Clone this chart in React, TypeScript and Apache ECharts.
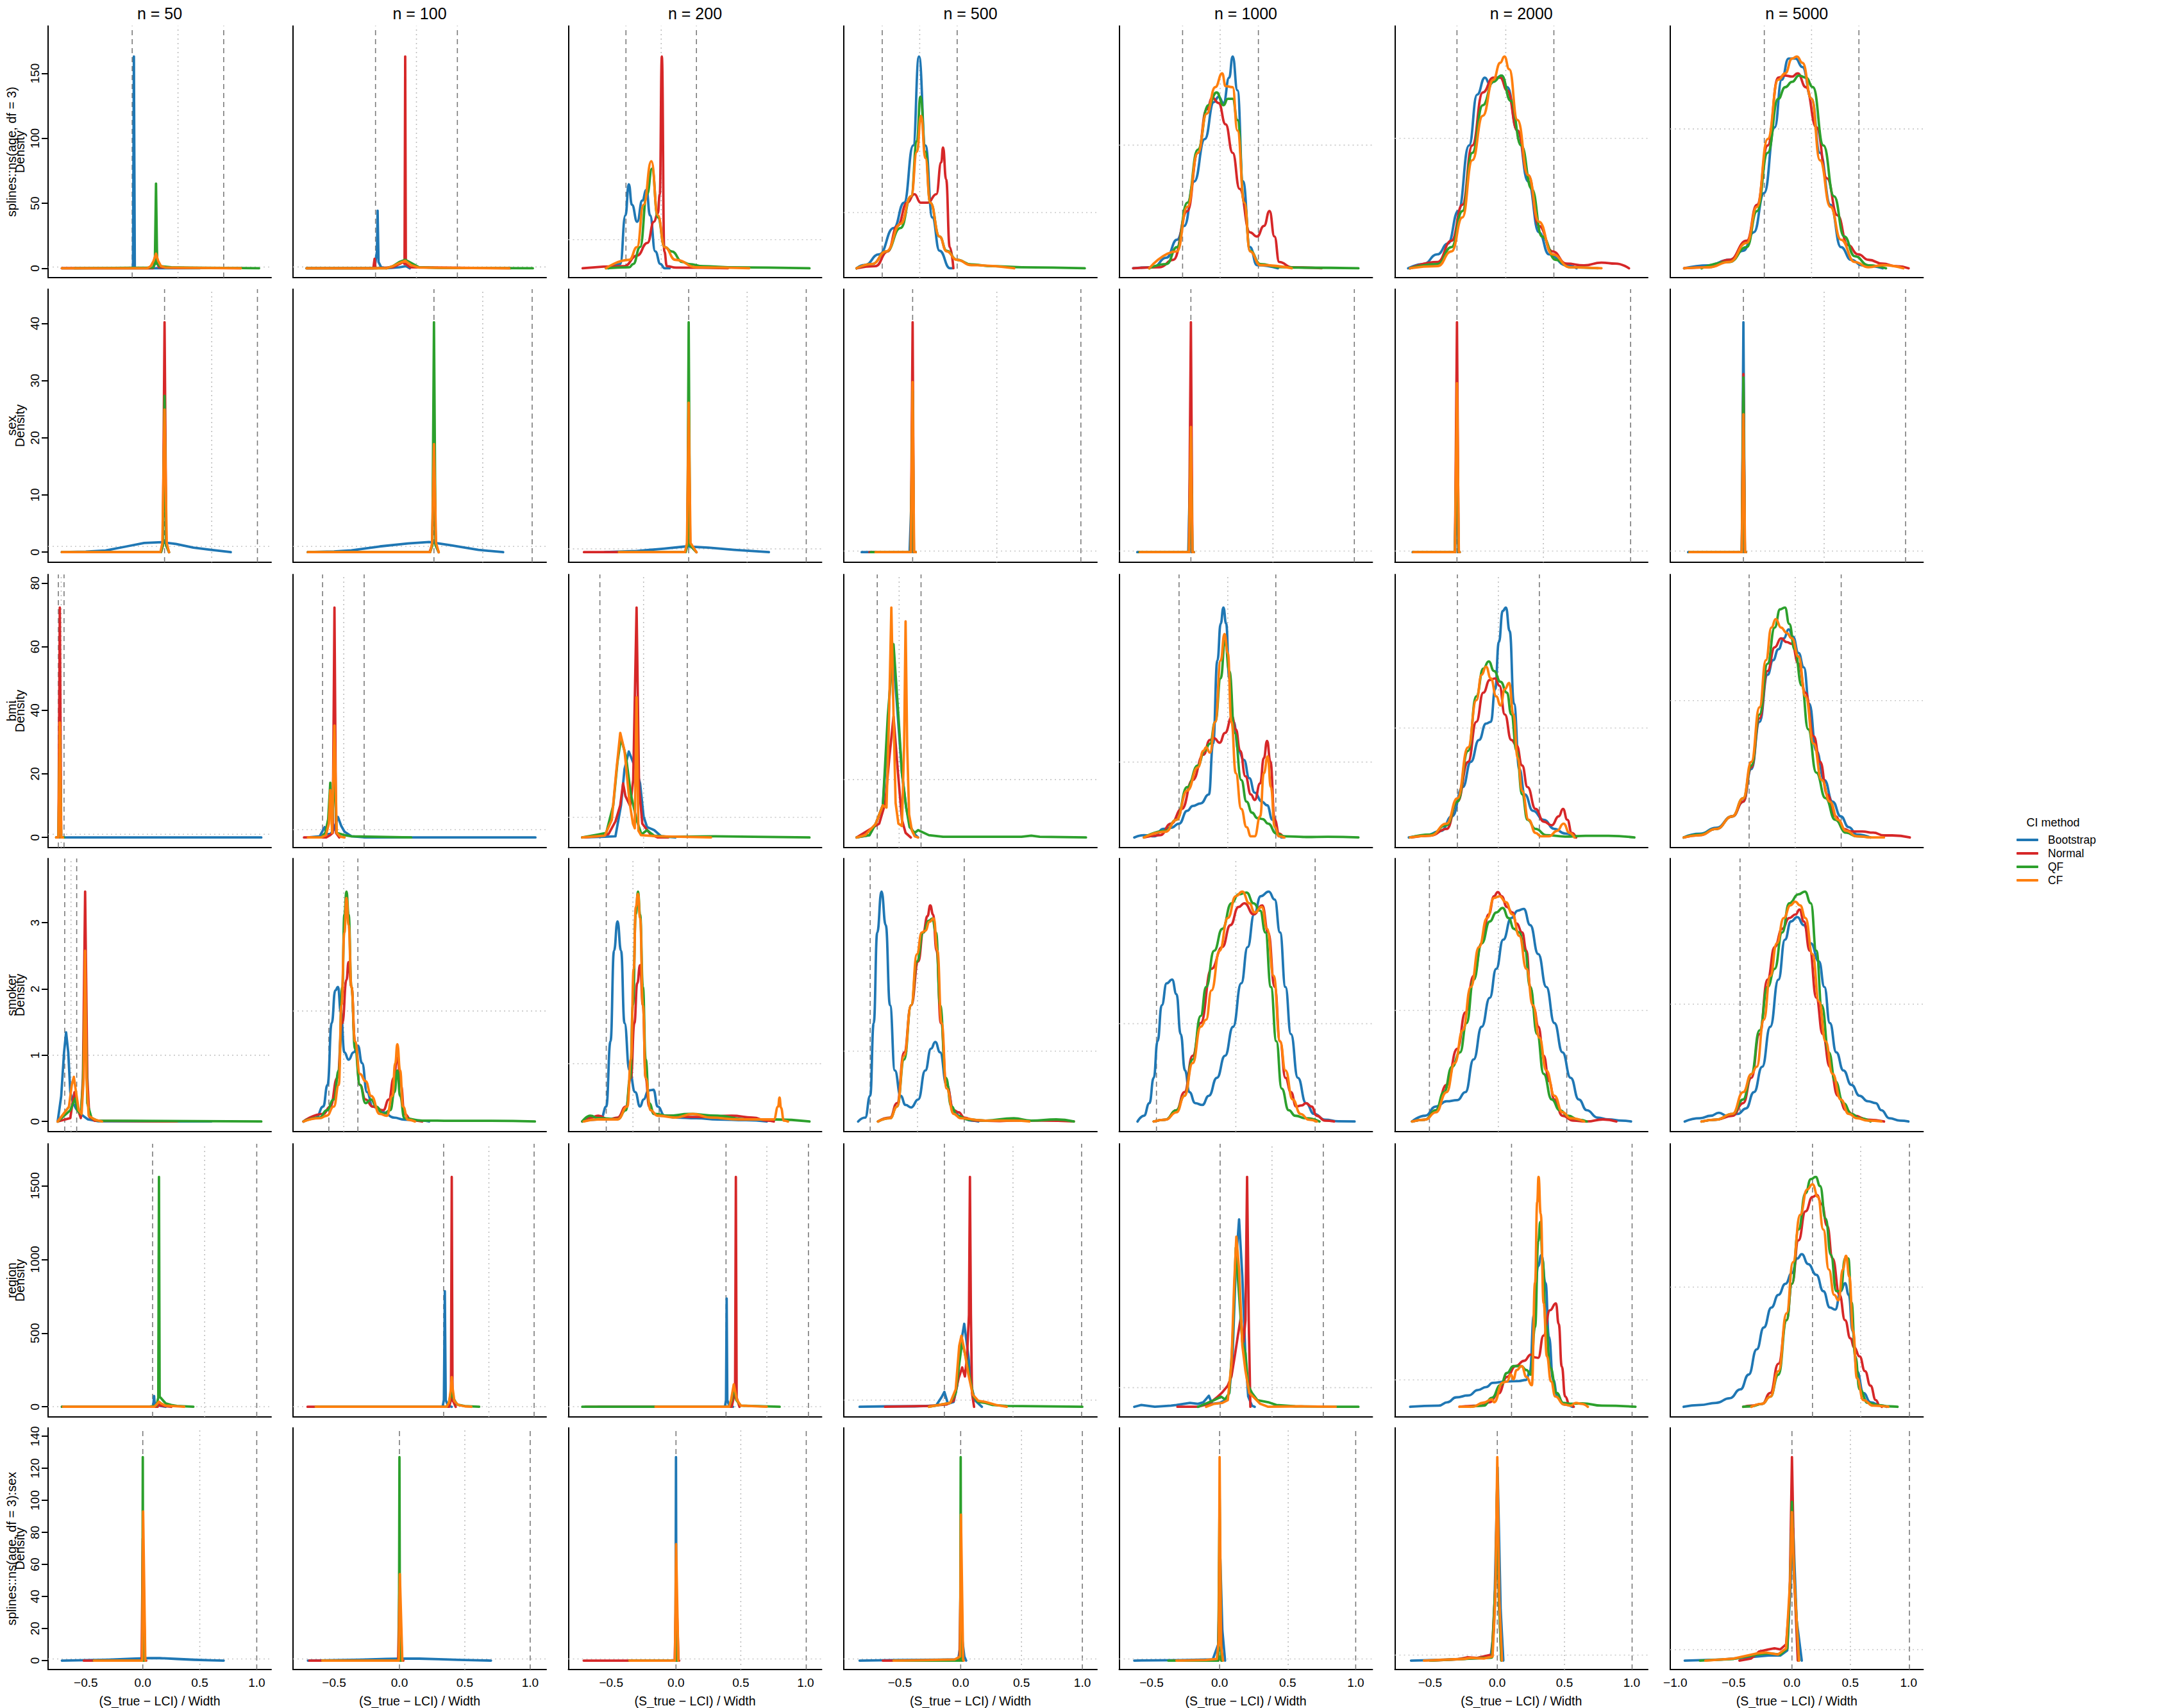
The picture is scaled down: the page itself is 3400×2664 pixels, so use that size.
import React, { useEffect, useRef } from "react";
import * as echarts from "echarts";

// ---------------- text ----------------
const COLUMN_TITLES = ["n = 50", "n = 100", "n = 200", "n = 500", "n = 1000", "n = 2000", "n = 5000"];
const ROW_TERMS = ["splines::ns(age, df = 3)", "sex", "bmi", "smoker", "region", "splines::ns(age, df = 3):sex"];
const METHODS = ["Bootstrap", "Normal", "QF", "CF"];
const X_AXIS_TITLE = "(S_true \u2212 LCI) / Width";
const Y_AXIS_TITLE = "Density";
const LEGEND_TITLE = "CI method";

// ---------------- axes ----------------
const X_LIMITS = [[-0.831, 1.127], [-0.814, 1.123], [-0.83, 1.124], [-0.961, 1.121], [-0.738, 1.123], [-0.762, 1.12], [-1.043, 1.125]];
const X_TICKS = [[-0.5, 0, 0.5, 1], [-0.5, 0, 0.5, 1], [-0.5, 0, 0.5, 1], [-0.5, 0, 0.5, 1], [-0.5, 0, 0.5, 1], [-0.5, 0, 0.5, 1], [-1, -0.5, 0, 0.5, 1]];
const Y_TICKS = [[0, 50, 100, 150], [0, 10, 20, 30, 40], [0, 20, 40, 60, 80], [0, 1, 2, 3], [0, 500, 1000, 1500], [0, 20, 40, 60, 80, 100, 120, 140]];

// tallest density in each panel (rows = terms, columns = n)
const PANEL_PEAK = [
  [163, 160, 7.4, 3.8, 1.72, 1.63, 1.52],
  [40.2, 40, 70, 200, 200, 200, 200],
  [72.3, 29.4, 11.4, 3.97, 3.05, 2.1, 1.68],
  [3.47, 2.08, 3.98, 3.27, 2.35, 2.07, 1.96],
  [1560, 1500, 1500, 34, 12, 8.55, 1.92],
  [127, 127, 127, 127, 127, 37, 18.6],
];

// dashed reference lines (pair per panel) and dotted centre line
const CI_LIMITS = [
  [[-0.093, 0.71], [-0.183, 0.443], [-0.386, 0.158], [-0.645, -0.029], [-0.272, 0.285], [-0.3, 0.421], [-0.237, 0.574]],
  [[0.191, 1.006], [0.264, 1.015], [0.098, 1.005], [-0.395, 0.988], [-0.211, 0.99], [-0.3, 0.992], [-0.416, 0.974]],
  [[-0.741, -0.691], [-0.588, -0.27], [-0.587, 0.087], [-0.686, -0.326], [-0.298, 0.413], [-0.297, 0.313], [-0.367, 0.422]],
  [[-0.685, -0.58], [-0.54, -0.318], [-0.538, -0.13], [-0.744, 0.029], [-0.464, 0.702], [-0.505, 0.517], [-0.445, 0.52]],
  [[0.086, 1.0], [0.338, 1.03], [0.386, 1.022], [-0.134, 0.994], [0.004, 0.762], [0.106, 1.003], [0.176, 1.007]],
  [[0, 1], [0, 1], [0, 1.005], [0, 1], [0, 1], [0, 1.003], [0, 1.007]],
];
const CI_CENTRES = [
  [0.309, 0.13, -0.114, -0.337, 0.004, 0.063, 0.168],
  [0.605, 0.637, 0.549, 0.297, 0.392, 0.343, 0.276],
  [-0.716, -0.426, -0.25, -0.506, 0.06, 0.008, 0.028],
  [-0.63, -0.426, -0.332, -0.355, 0.119, 0.008, 0.037],
  [0.543, 0.684, 0.701, 0.43, 0.385, 0.555, 0.589],
  [0.5, 0.5, 0.5, 0.5, 0.504, 0.5, 0.501],
];
const UNIFORM_DENSITY = 1;

// ---------------- curves: [x, height in % of the panel's tallest peak] ----------------
// row 1: splines::ns(age, df = 3)
const age_50 = {
  Bootstrap: [[-0.71, 0], [-0.3, 0], [-0.086, 0], [-0.078, 100], [-0.07, 0], [0.2, 0], [0.5, 0]],
  Normal: [[-0.71, 0], [0.09, 0], [0.106, 3], [0.116, 14], [0.126, 3], [0.14, 0.5], [0.3, 0.2], [0.86, 0]],
  QF: [[-0.6, 0], [0.09, 0.3], [0.106, 2], [0.116, 40], [0.126, 2], [0.15, 1], [0.25, 0.5], [0.4, 0.3], [1.02, 0]],
  CF: [[-0.71, 0], [0.04, 0], [0.07, 1], [0.095, 3.5], [0.116, 6.9], [0.135, 3.5], [0.16, 1], [0.2, 0.3], [0.86, 0]],
};
const age_100 = {
  Bootstrap: [[-0.71, 0], [-0.3, 0], [-0.19, 0], [-0.178, 5.4], [-0.172, 8], [-0.167, 27.2], [-0.16, 3], [-0.14, 0.5], [-0.1, 0], [0, 0.5], [0.05, 1], [0.08, 0]],
  Normal: [[-0.71, 0], [-0.2, 0], [-0.19, 4.5], [-0.183, 0], [-0.05, 0.5], [0, 2], [0.03, 3], [0.039, 2], [0.044, 100], [0.049, 2], [0.08, 0.5], [0.85, 0]],
  QF: [[-0.71, 0], [-0.1, 0], [-0.05, 1], [0, 3], [0.044, 4], [0.09, 2.5], [0.15, 0.5], [0.3, 0.2], [1.02, 0]],
  CF: [[-0.71, 0], [-0.1, 0], [-0.05, 1], [0, 2.5], [0.044, 3.5], [0.09, 1.5], [0.15, 0.3], [0.84, 0]],
};
const age_200 = {
  Bootstrap: [[-0.52, 0], [-0.43, 2], [-0.39, 25], [-0.364, 39.7], [-0.34, 30], [-0.299, 22], [-0.26, 32], [-0.228, 37], [-0.2, 25], [-0.16, 8], [-0.12, 2], [-0.087, 0], [-0.049, 0]],
  Normal: [[-0.72, 0], [-0.4, 1], [-0.3, 6], [-0.22, 12], [-0.17, 22], [-0.14, 26], [-0.125, 35], [-0.109, 100], [-0.09, 8], [-0.07, 1], [0, 0.3], [0.4, 0]],
  QF: [[-0.54, 0], [-0.36, 0.5], [-0.33, 2], [-0.277, 10], [-0.223, 35], [-0.185, 47], [-0.14, 24], [-0.087, 10], [-0.033, 8], [0.05, 3], [0.1, 2], [0.21, 1], [0.4, 0.5], [1.03, 0]],
  CF: [[-0.54, 0], [-0.36, 4], [-0.3, 10], [-0.25, 30], [-0.19, 50.6], [-0.14, 25], [-0.087, 10], [-0.005, 4], [0.16, 0.5], [0.565, 0]],
};
const age_500 = {
  Bootstrap: [[-0.855, 0], [-0.79, 1.5], [-0.67, 6.6], [-0.55, 19], [-0.465, 31], [-0.39, 58], [-0.343, 100], [-0.29, 58], [-0.233, 24], [-0.174, 8.3], [-0.087, 0], [-0.07, 0]],
  Normal: [[-0.855, 0], [-0.7, 1], [-0.6, 8], [-0.52, 20], [-0.44, 31], [-0.38, 35], [-0.33, 31], [-0.27, 31], [-0.2, 35], [-0.16, 50], [-0.145, 57], [-0.12, 42], [-0.09, 10], [-0.06, 0]],
  QF: [[-0.855, 0], [-0.73, 2], [-0.61, 8], [-0.494, 19], [-0.407, 34], [-0.36, 60], [-0.331, 81], [-0.29, 55], [-0.25, 31], [-0.174, 15], [-0.116, 8.3], [-0.03, 4], [0.087, 1.8], [0.26, 1], [0.5, 0.5], [1.02, 0]],
  CF: [[-0.855, 0], [-0.73, 2], [-0.61, 8], [-0.494, 21], [-0.407, 34], [-0.36, 55], [-0.326, 72], [-0.29, 52], [-0.25, 31], [-0.174, 15], [-0.116, 8], [-0.03, 4], [0.087, 1.5], [0.44, 0]],
};
const age_1000 = {
  Bootstrap: [[-0.635, 0], [-0.49, 0.5], [-0.39, 5], [-0.313, 13.5], [-0.26, 20], [-0.186, 41], [-0.109, 61], [-0.042, 78.5], [-0.007, 81], [0.029, 78], [0.07, 90], [0.096, 100], [0.131, 84], [0.172, 41], [0.223, 10], [0.275, 1.5], [0.428, 0]],
  Normal: [[-0.635, 0], [-0.44, 0.5], [-0.34, 4], [-0.237, 27], [-0.16, 54.5], [-0.095, 75], [-0.053, 80.5], [-0.007, 78], [0.044, 68], [0.096, 54.5], [0.147, 37.5], [0.223, 17], [0.275, 15], [0.326, 20], [0.367, 27], [0.403, 15], [0.438, 3], [0.53, 0.5], [0.75, 0]],
  QF: [[-0.517, 0], [-0.39, 2], [-0.313, 10], [-0.237, 31], [-0.16, 56], [-0.083, 77], [-0.022, 83], [0.029, 77], [0.06, 80], [0.096, 80], [0.131, 70], [0.182, 31], [0.223, 8.3], [0.3, 2], [0.43, 0.6], [0.58, 0.3], [1.02, 0]],
  CF: [[-0.517, 0], [-0.313, 8], [-0.237, 29], [-0.16, 54.5], [-0.095, 73], [-0.032, 85.5], [0.019, 92], [0.044, 86], [0.096, 85.5], [0.131, 65], [0.182, 31], [0.223, 8], [0.3, 1.5], [0.53, 0]],
};
const age_2000 = {
  Bootstrap: [[-0.663, 0], [-0.55, 2], [-0.445, 6.6], [-0.367, 11.7], [-0.29, 27], [-0.21, 58], [-0.15, 82], [-0.092, 90], [-0.056, 87], [-0.004, 90], [0.032, 91], [0.074, 85.5], [0.15, 65], [0.23, 41], [0.31, 17], [0.385, 6.6], [0.515, 1.4], [0.59, 0]],
  Normal: [[-0.65, 0], [-0.445, 3], [-0.34, 13], [-0.26, 30], [-0.186, 58], [-0.108, 83], [-0.03, 90], [0.022, 90], [0.074, 84], [0.15, 65], [0.23, 44], [0.31, 20], [0.41, 8], [0.515, 2.2], [0.645, 1.4], [0.775, 2.7], [0.88, 2.2], [0.98, 0]],
  QF: [[-0.65, 0], [-0.445, 2], [-0.34, 10], [-0.26, 27], [-0.186, 54.5], [-0.108, 77], [-0.03, 88], [0.032, 91], [0.1, 79], [0.178, 58], [0.256, 37.5], [0.333, 15], [0.436, 4], [0.54, 0.5], [0.75, 0]],
  CF: [[-0.65, 0], [-0.445, 1], [-0.34, 8], [-0.26, 24], [-0.186, 51], [-0.108, 72], [-0.03, 89], [0.022, 97], [0.053, 100], [0.089, 94], [0.15, 70], [0.23, 44], [0.31, 22], [0.41, 6.6], [0.54, 0.5], [0.775, 0]],
};
const age_5000 = {
  Bootstrap: [[-0.924, 0], [-0.715, 1.4], [-0.536, 4], [-0.417, 8.3], [-0.327, 17], [-0.238, 35.6], [-0.148, 66.5], [-0.088, 89], [-0.029, 99], [0.031, 99], [0.09, 95], [0.168, 80], [0.24, 54.5], [0.33, 30], [0.42, 10], [0.508, 4], [0.6, 1.4], [0.778, 0]],
  Normal: [[-0.924, 0], [-0.715, 0.5], [-0.536, 4], [-0.387, 13], [-0.3, 30], [-0.208, 58], [-0.118, 90], [-0.058, 91], [0.001, 90.5], [0.049, 92], [0.12, 85.5], [0.21, 66.5], [0.3, 42.5], [0.39, 25], [0.478, 11], [0.567, 6.6], [0.657, 4], [0.776, 2.2], [0.895, 1], [1.0, 0]],
  QF: [[-0.775, 0], [-0.536, 3], [-0.387, 10], [-0.3, 27], [-0.208, 54.5], [-0.118, 80], [-0.058, 85.5], [0.001, 88], [0.06, 91], [0.12, 90], [0.18, 85.5], [0.27, 58], [0.36, 34], [0.448, 15], [0.538, 5.7], [0.657, 1.4], [0.806, 0]],
  CF: [[-0.924, 0], [-0.715, 0.5], [-0.536, 3], [-0.387, 12], [-0.3, 29], [-0.208, 61], [-0.118, 89], [-0.058, 92], [0.001, 99], [0.043, 100], [0.09, 97], [0.168, 80], [0.24, 51], [0.33, 29], [0.42, 13.5], [0.538, 3], [0.657, 0.5], [0.776, 1.5], [0.955, 0]],
};

// row 2: sex
const sex_50 = {
  Bootstrap: [[-0.71, 0], [-0.5, 0.25], [-0.327, 0.75], [-0.142, 2.5], [0.012, 4], [0.167, 4.35], [0.29, 3.6], [0.444, 2], [0.6, 1], [0.772, 0]],
  Normal: [[-0.71, 0], [0.16, 0], [0.176, 3], [0.191, 100], [0.206, 3], [0.23, 0]],
  QF: [[-0.71, 0], [0.16, 0], [0.177, 3], [0.191, 68], [0.205, 3], [0.23, 0]],
  CF: [[-0.71, 0], [0.155, 0], [0.172, 4], [0.191, 62], [0.21, 4], [0.23, 0]],
};
const sex_100 = {
  Bootstrap: [[-0.7, 0], [-0.5, 0.3], [-0.367, 0.8], [-0.15, 2.5], [0.065, 3.8], [0.227, 4.4], [0.39, 3], [0.604, 1], [0.793, 0]],
  Normal: [[-0.7, 0], [0.23, 0], [0.25, 3], [0.264, 40], [0.278, 3], [0.3, 0]],
  QF: [[-0.7, 0], [0.235, 0], [0.252, 3], [0.264, 100], [0.276, 3], [0.3, 0]],
  CF: [[-0.7, 0], [0.235, 0], [0.25, 4], [0.264, 47], [0.28, 4], [0.3, 0]],
};
const sex_200 = {
  Bootstrap: [[-0.55, 0], [-0.3, 0.5], [-0.1, 1.5], [0.076, 2.5], [0.25, 2], [0.45, 1], [0.717, 0]],
  Normal: [[-0.71, 0], [0.07, 0], [0.086, 3], [0.098, 55], [0.11, 3], [0.158, 0]],
  QF: [[-0.44, 0], [0.075, 0], [0.088, 3], [0.098, 100], [0.108, 3], [0.158, 0]],
  CF: [[-0.44, 0], [0.07, 0], [0.085, 4], [0.098, 65], [0.112, 4], [0.158, 0]],
};
const sex_500 = {
  Bootstrap: [[-0.814, 0], [-0.42, 0], [-0.4, 30], [-0.39, 0], [-0.38, 0]],
  Normal: [[-0.75, 0], [-0.41, 0], [-0.395, 100], [-0.385, 0], [-0.37, 0]],
  QF: [[-0.74, 0], [-0.41, 0], [-0.395, 70], [-0.385, 0], [-0.37, 0]],
  CF: [[-0.7, 0], [-0.41, 0], [-0.395, 74], [-0.383, 0], [-0.37, 0]],
};
const sex_1000 = {
  Bootstrap: [[-0.605, 0], [-0.23, 0], [-0.215, 40], [-0.205, 0], [-0.19, 0]],
  Normal: [[-0.59, 0], [-0.225, 0], [-0.211, 100], [-0.2, 0], [-0.19, 0]],
  QF: [[-0.59, 0], [-0.225, 0], [-0.211, 50], [-0.2, 0], [-0.19, 0]],
  CF: [[-0.585, 0], [-0.225, 0], [-0.211, 54.5], [-0.2, 0], [-0.19, 0]],
};
const sex_2000 = {
  Bootstrap: [[-0.63, 0], [-0.315, 0], [-0.302, 40], [-0.29, 0], [-0.28, 0]],
  Normal: [[-0.626, 0], [-0.315, 0], [-0.3, 100], [-0.288, 0], [-0.28, 0]],
  QF: [[-0.626, 0], [-0.315, 0], [-0.3, 60], [-0.288, 0], [-0.28, 0]],
  CF: [[-0.626, 0], [-0.315, 0], [-0.3, 73.5], [-0.286, 0], [-0.28, 0]],
};
const sex_5000 = {
  Bootstrap: [[-0.89, 0], [-0.43, 0], [-0.416, 100], [-0.404, 0], [-0.395, 0]],
  Normal: [[-0.88, 0], [-0.43, 0], [-0.416, 77.5], [-0.404, 0], [-0.395, 0]],
  QF: [[-0.88, 0], [-0.43, 0], [-0.416, 76], [-0.404, 0], [-0.395, 0]],
  CF: [[-0.878, 0], [-0.43, 0], [-0.416, 60], [-0.402, 0], [-0.395, 0]],
};

// row 3: bmi
const bmi_50 = {
  Bootstrap: [[-0.75, 0], [-0.735, 0], [-0.728, 1], [-0.72, 0], [1.04, 0]],
  Normal: [[-0.76, 0], [-0.74, 0], [-0.728, 100], [-0.716, 0], [-0.7, 0]],
  QF: [[-0.76, 0], [-0.74, 0], [-0.728, 45], [-0.716, 0], [-0.69, 0]],
  CF: [[-0.76, 0], [-0.74, 0], [-0.728, 50], [-0.716, 0], [-0.7, 0]],
};
const bmi_100 = {
  Bootstrap: [[-0.7, 0], [-0.61, 0.5], [-0.572, 4.5], [-0.555, 1.5], [-0.53, 1.5], [-0.505, 3], [-0.47, 8.9], [-0.445, 5], [-0.42, 2.5], [-0.367, 0.5], [-0.26, 0], [1.04, 0]],
  Normal: [[-0.73, 0], [-0.56, 0], [-0.53, 1], [-0.51, 2], [-0.497, 100], [-0.485, 2], [-0.46, 0]],
  QF: [[-0.66, 0], [-0.6, 0], [-0.567, 2], [-0.545, 8], [-0.529, 23.8], [-0.515, 5], [-0.497, 30], [-0.48, 2], [-0.42, 1], [-0.367, 0.5], [0.09, 0]],
  CF: [[-0.7, 0], [-0.6, 0], [-0.562, 1], [-0.54, 6], [-0.529, 20.6], [-0.515, 2], [-0.497, 48.7], [-0.48, 2], [-0.45, 0.3], [-0.42, 0]],
};
const bmi_200 = {
  Bootstrap: [[-0.723, 0], [-0.549, 0.3], [-0.467, 0.5], [-0.424, 14], [-0.397, 29.8], [-0.364, 37.4], [-0.332, 32.9], [-0.299, 28.2], [-0.277, 23.5], [-0.25, 9.2], [-0.223, 4.5], [-0.168, 3.2], [-0.114, 0.5], [-0.005, 0]],
  Normal: [[-0.723, 0], [-0.6, 0.5], [-0.52, 1.5], [-0.467, 7], [-0.43, 14], [-0.408, 23.5], [-0.39, 18], [-0.353, 13.7], [-0.33, 25], [-0.304, 100], [-0.285, 22], [-0.26, 6], [-0.196, 1.3], [-0.14, 0], [-0.06, 0]],
  QF: [[-0.723, 0], [-0.6, 1.3], [-0.538, 2], [-0.484, 14], [-0.451, 33], [-0.424, 43.2], [-0.386, 35.3], [-0.348, 18.7], [-0.304, 7.7], [-0.266, 1.3], [-0.223, 3.2], [-0.17, 0.8], [-0.06, 0.3], [0.3, 0.5], [0.6, 0.3], [1.03, 0]],
  CF: [[-0.723, 0], [-0.549, 0.8], [-0.495, 7.7], [-0.462, 28], [-0.43, 45.5], [-0.397, 37.7], [-0.359, 15.6], [-0.332, 6], [-0.318, 4], [-0.304, 61], [-0.29, 3], [-0.27, 1], [-0.14, 0.5], [0.27, 0]],
};
const bmi_500 = {
  Bootstrap: [[-0.855, 0], [-0.75, 1], [-0.698, 6], [-0.64, 14], [-0.599, 45.5], [-0.564, 85], [-0.529, 61.4], [-0.483, 28], [-0.448, 13], [-0.42, 6], [-0.39, 2], [-0.35, 0]],
  Normal: [[-0.855, 0], [-0.67, 6], [-0.62, 15], [-0.587, 34.5], [-0.552, 52.6], [-0.518, 29.8], [-0.483, 7.7], [-0.453, 2], [-0.41, 0]],
  QF: [[-0.855, 0], [-0.75, 1], [-0.698, 6], [-0.64, 14], [-0.599, 53], [-0.552, 84], [-0.512, 53], [-0.483, 28], [-0.448, 13], [-0.42, 4.5], [-0.378, 2], [-0.35, 3.2], [-0.262, 1], [-0.145, 0.3], [0.5, 0.3], [0.58, 0.8], [0.65, 0.3], [1.03, 0]],
  CF: [[-0.855, 0], [-0.785, 1], [-0.698, 6], [-0.64, 14], [-0.61, 13], [-0.59, 50], [-0.57, 100], [-0.552, 53], [-0.535, 15], [-0.512, 6], [-0.483, 5], [-0.465, 40], [-0.453, 94], [-0.44, 40], [-0.424, 10], [-0.401, 3], [-0.378, 0.5], [-0.35, 0]],
};
const bmi_1000 = {
  Bootstrap: [[-0.627, 0], [-0.556, 1], [-0.476, 0.5], [-0.417, 3.7], [-0.357, 4.2], [-0.298, 6], [-0.238, 11.6], [-0.198, 13.7], [-0.139, 14.8], [-0.079, 18.7], [-0.048, 40.8], [-0.016, 77], [0.008, 93], [0.028, 100], [0.048, 93], [0.071, 69.2], [0.103, 50.3], [0.139, 37.7], [0.179, 33.7], [0.218, 25.8], [0.258, 19.5], [0.31, 15.6], [0.349, 14], [0.389, 7.7], [0.429, 1.7], [0.456, 0], [0.476, 0]],
  Normal: [[-0.556, 0], [-0.437, 1], [-0.357, 6], [-0.278, 12.4], [-0.198, 25], [-0.119, 36], [-0.071, 42.4], [-0.04, 43.2], [0, 41.2], [0.04, 45.5], [0.091, 52.6], [0.119, 47], [0.151, 37.7], [0.19, 26.6], [0.23, 18.7], [0.258, 16.3], [0.298, 23.5], [0.325, 34.5], [0.349, 42], [0.373, 33], [0.405, 7.7], [0.437, 1.7], [0.468, 0]],
  QF: [[-0.556, 0], [-0.397, 2.9], [-0.317, 7.7], [-0.238, 21.9], [-0.159, 31.3], [-0.111, 37.7], [-0.071, 40.8], [-0.032, 50.3], [0.008, 69.2], [0.04, 85.8], [0.071, 72.4], [0.111, 45.5], [0.159, 25], [0.198, 15.6], [0.238, 10.8], [0.278, 8.4], [0.317, 8], [0.357, 6], [0.417, 1.7], [0.476, 0.5], [0.635, 0.2], [0.794, 0.3], [1.02, 0]],
  CF: [[-0.556, 0], [-0.397, 2.5], [-0.317, 7.7], [-0.238, 20.4], [-0.159, 30.5], [-0.119, 37.7], [-0.099, 39.2], [-0.071, 36.9], [-0.032, 50.3], [0.008, 77], [0.036, 88.5], [0.06, 80.3], [0.087, 50.3], [0.119, 28], [0.159, 12.4], [0.198, 4.5], [0.23, 0.5], [0.258, 0.5], [0.298, 9.2], [0.325, 28], [0.353, 35.2], [0.377, 21.9], [0.405, 4.5], [0.437, 0.5], [0.476, 0]],
};
const bmi_2000 = {
  Bootstrap: [[-0.658, 0], [-0.537, 0.8], [-0.417, 2.9], [-0.337, 9.2], [-0.257, 21.9], [-0.197, 32.9], [-0.136, 42.4], [-0.084, 49.5], [-0.048, 50.3], [-0.016, 64.5], [0.012, 85], [0.04, 98.5], [0.064, 100], [0.092, 89.8], [0.124, 58.2], [0.164, 29.8], [0.205, 18.7], [0.265, 11.6], [0.345, 7.7], [0.425, 3.7], [0.505, 1.7], [0.586, 0]],
  Normal: [[-0.638, 0], [-0.497, 0.8], [-0.377, 3.7], [-0.297, 15.6], [-0.217, 32.9], [-0.156, 50.3], [-0.104, 63], [-0.056, 68.5], [-0.016, 69.2], [0.016, 66], [0.056, 53.5], [0.104, 42.4], [0.144, 40], [0.185, 31.3], [0.225, 21.9], [0.285, 12.4], [0.345, 6.9], [0.405, 5.3], [0.457, 9.2], [0.489, 12.4], [0.521, 7.7], [0.554, 2], [0.586, 0]],
  QF: [[-0.65, 0], [-0.497, 1.3], [-0.377, 5.3], [-0.297, 15.6], [-0.217, 37.7], [-0.156, 61.4], [-0.104, 73.4], [-0.064, 76.6], [-0.024, 72.4], [0.024, 67.7], [0.072, 63], [0.104, 53.5], [0.144, 37.7], [0.185, 18.7], [0.225, 7.7], [0.285, 3.7], [0.365, 1], [0.505, 0.4], [0.658, 0.7], [0.826, 0.7], [1.02, 0]],
  CF: [[-0.65, 0], [-0.497, 0.8], [-0.377, 6], [-0.297, 17], [-0.217, 39.2], [-0.156, 59.7], [-0.116, 70.8], [-0.084, 74.3], [-0.048, 69.2], [-0.008, 61.4], [0.024, 57.4], [0.056, 64.5], [0.088, 67.2], [0.12, 53.5], [0.152, 34.5], [0.185, 20.3], [0.233, 7.7], [0.285, 2], [0.325, 0.5], [0.385, 0.5], [0.445, 2.9], [0.493, 6], [0.537, 2], [0.574, 0]],
};
const bmi_5000 = {
  Bootstrap: [[-0.928, 0], [-0.789, 1.6], [-0.65, 4.2], [-0.51, 9.2], [-0.418, 15.6], [-0.348, 29.8], [-0.278, 50.3], [-0.209, 70.8], [-0.162, 77.1], [-0.116, 81.9], [-0.07, 86.6], [-0.028, 90.5], [0.009, 87.3], [0.056, 80.3], [0.102, 74], [0.148, 58.2], [0.209, 37.7], [0.278, 25], [0.348, 15.6], [0.418, 9.2], [0.487, 4.5], [0.557, 1.3], [0.673, 0]],
  Normal: [[-0.928, 0], [-0.789, 1], [-0.65, 3.7], [-0.51, 9.2], [-0.418, 15.6], [-0.348, 30.5], [-0.278, 51.8], [-0.209, 72.4], [-0.148, 82.7], [-0.093, 86.6], [-0.046, 85], [0, 84.2], [0.056, 75.6], [0.116, 63], [0.186, 44], [0.241, 32.9], [0.302, 18.7], [0.371, 9.2], [0.441, 3.7], [0.51, 2.6], [0.603, 2.6], [0.696, 2.1], [0.789, 0.9], [0.858, 0.9], [1.01, 0]],
  QF: [[-0.928, 0], [-0.789, 1.3], [-0.65, 3.7], [-0.51, 9.2], [-0.418, 17], [-0.348, 31.3], [-0.278, 53.5], [-0.209, 75.6], [-0.148, 91.3], [-0.102, 99.2], [-0.06, 100], [-0.023, 92.9], [0.023, 81.9], [0.084, 66.1], [0.139, 47.1], [0.209, 28.2], [0.288, 17.1], [0.371, 7.7], [0.464, 2.1], [0.557, 0.5], [0.673, 0]],
  CF: [[-0.928, 0], [-0.789, 1], [-0.65, 3.7], [-0.51, 9.2], [-0.418, 17], [-0.348, 32.9], [-0.278, 56.6], [-0.223, 77.1], [-0.176, 91.3], [-0.139, 95], [-0.093, 91.3], [-0.046, 89], [0, 86.6], [0.056, 78.7], [0.116, 61.4], [0.186, 40.8], [0.255, 25], [0.325, 15.6], [0.394, 7.7], [0.464, 2.9], [0.557, 0.5], [0.696, 0], [0.789, 0]],
};

// row 4: smoker
const smoker_50 = {
  Bootstrap: [[-0.747, 0], [-0.716, 11], [-0.691, 30], [-0.673, 38.8], [-0.654, 30], [-0.636, 12.8], [-0.611, 8], [-0.586, 5.6], [-0.556, 4], [-0.525, 2.5], [-0.481, 0.9], [-0.389, 0.1], [0.6, 0]],
  Normal: [[-0.747, 0], [-0.636, 1.5], [-0.617, 8], [-0.599, 12.8], [-0.575, 6], [-0.544, 1.5], [-0.525, 19], [-0.506, 100], [-0.487, 19], [-0.469, 2], [-0.42, 0.3], [0.3, 0]],
  QF: [[-0.747, 0], [-0.636, 4.9], [-0.611, 8], [-0.593, 10], [-0.575, 4.9], [-0.544, 3.3], [-0.525, 16], [-0.506, 60], [-0.487, 8], [-0.45, 1.5], [-0.4, 0.4], [1.04, 0]],
  CF: [[-0.747, 0], [-0.648, 6.4], [-0.623, 15.9], [-0.605, 19.4], [-0.586, 12.8], [-0.562, 4.9], [-0.537, 3.3], [-0.519, 19], [-0.506, 74.3], [-0.494, 19], [-0.475, 2.5], [-0.42, 0.8], [-0.358, 0]],
};
const smoker_100 = {
  Bootstrap: [[-0.734, 0], [-0.637, 1.7], [-0.583, 6.5], [-0.55, 15.9], [-0.518, 42.8], [-0.491, 57], [-0.47, 58.5], [-0.448, 47.5], [-0.421, 30.1], [-0.389, 26.9], [-0.351, 30.1], [-0.318, 33], [-0.286, 25.4], [-0.248, 12.8], [-0.205, 6.5], [-0.124, 4], [-0.043, 1.7], [0.038, 0.8], [0.173, 0.4], [0.227, 0]],
  Normal: [[-0.734, 0], [-0.583, 3.3], [-0.529, 6.5], [-0.475, 19], [-0.437, 42.8], [-0.405, 61.7], [-0.389, 69.3], [-0.367, 58.5], [-0.34, 34.9], [-0.302, 15.9], [-0.259, 9.6], [-0.205, 6.5], [-0.124, 4.9], [-0.081, 9.6], [-0.043, 19], [-0.016, 27.8], [0.011, 15.9], [0.038, 3.3], [0.092, 0.5], [0.173, 0]],
  QF: [[-0.734, 0], [-0.61, 1.7], [-0.556, 4.9], [-0.502, 9.6], [-0.464, 22.2], [-0.437, 58.5], [-0.421, 90.1], [-0.405, 100], [-0.389, 90.1], [-0.367, 58.5], [-0.34, 31.7], [-0.302, 15.9], [-0.259, 8], [-0.216, 9.6], [-0.178, 6.5], [-0.124, 3.3], [-0.07, 4.9], [-0.038, 12.8], [-0.016, 22.2], [0.005, 11.1], [0.038, 1.4], [0.173, 0.4], [0.4, 0.3], [0.7, 0.3], [1.036, 0]],
  CF: [[-0.734, 0], [-0.61, 1.4], [-0.556, 2.5], [-0.502, 6.5], [-0.464, 15.9], [-0.443, 50.6], [-0.421, 82.2], [-0.405, 97.2], [-0.389, 85.4], [-0.367, 58.5], [-0.34, 34.9], [-0.302, 20.7], [-0.259, 17.5], [-0.216, 11.1], [-0.151, 3.3], [-0.097, 2.5], [-0.054, 11.1], [-0.032, 25.4], [-0.016, 33.6], [0.005, 22.2], [0.027, 6.5], [0.065, 0.8], [0.119, 0]],
};
const smoker_200 = {
  Bootstrap: [[-0.723, 0], [-0.63, 0.8], [-0.576, 1.7], [-0.538, 6.5], [-0.505, 34.9], [-0.478, 74.3], [-0.451, 87], [-0.424, 74.3], [-0.397, 42.8], [-0.359, 22.2], [-0.315, 12.8], [-0.277, 6.5], [-0.25, 9.6], [-0.212, 13.5], [-0.174, 13.8], [-0.141, 6.5], [-0.087, 2.5], [-0.005, 1.7], [0.158, 1.4], [0.321, 0.9], [0.538, 0.6], [0.7, 0]],
  Normal: [[-0.723, 0], [-0.66, 1.7], [-0.6, 2.5], [-0.52, 0.9], [-0.45, 1.7], [-0.386, 6.5], [-0.348, 19], [-0.321, 42.8], [-0.299, 60.1], [-0.277, 68], [-0.255, 50.6], [-0.234, 19], [-0.207, 6.5], [-0.168, 3.3], [-0.114, 2.5], [-0.005, 2.5], [0.103, 2], [0.212, 2], [0.429, 2.5], [0.592, 1.7], [0.701, 0.4], [0.755, 0]],
  QF: [[-0.723, 0], [-0.66, 2.5], [-0.6, 1.5], [-0.45, 1], [-0.386, 4.9], [-0.353, 19], [-0.332, 50.6], [-0.31, 90.1], [-0.293, 100], [-0.277, 90.1], [-0.255, 58.5], [-0.234, 27], [-0.207, 8], [-0.168, 3.3], [-0.06, 2.5], [0.103, 3.3], [0.321, 2.5], [0.538, 0.9], [0.755, 0.9], [1.03, 0]],
  CF: [[-0.712, 0], [-0.6, 0.9], [-0.45, 0.9], [-0.375, 6.5], [-0.348, 27], [-0.326, 66.4], [-0.31, 93.3], [-0.293, 99], [-0.277, 88.5], [-0.255, 50.6], [-0.234, 19], [-0.196, 4.9], [-0.141, 2.5], [-0.005, 1.7], [0.13, 3.3], [0.266, 1.7], [0.484, 0.9], [0.755, 0.9], [0.788, 6.5], [0.799, 10.4], [0.81, 6], [0.832, 0.4], [0.864, 0]],
};
const smoker_500 = {
  Bootstrap: [[-0.843, 0], [-0.785, 1.7], [-0.744, 11.2], [-0.715, 42.8], [-0.686, 82.2], [-0.651, 100], [-0.616, 85.4], [-0.581, 50.6], [-0.541, 22.2], [-0.494, 11.2], [-0.453, 7.2], [-0.407, 6.1], [-0.349, 9.6], [-0.291, 22.2], [-0.244, 31.7], [-0.209, 34.6], [-0.169, 30.1], [-0.116, 15.9], [-0.058, 4.9], [0, 1.7], [0.087, 0.4], [0.145, 0]],
  Normal: [[-0.68, 0], [-0.581, 1.7], [-0.523, 8], [-0.465, 30.1], [-0.407, 50.6], [-0.349, 69.6], [-0.308, 82.2], [-0.273, 89.3], [-0.25, 94], [-0.227, 90], [-0.198, 74.3], [-0.163, 42.8], [-0.116, 15.9], [-0.058, 4.9], [-0.017, 4], [0.029, 1.7], [0.116, 0.4], [0.32, 0.2], [0.436, 0.4], [0.669, 0.4], [0.93, 0]],
  QF: [[-0.68, 0], [-0.581, 1.4], [-0.523, 6.5], [-0.465, 27], [-0.407, 50.6], [-0.36, 69.6], [-0.308, 82.2], [-0.262, 87.3], [-0.233, 88.3], [-0.203, 82.2], [-0.169, 50.6], [-0.122, 19], [-0.076, 6.5], [-0.029, 2.5], [0.058, 0.9], [0.203, 0.4], [0.436, 1.4], [0.58, 0.4], [0.785, 0.9], [0.93, 0]],
  CF: [[-0.68, 0], [-0.581, 1.4], [-0.523, 6.5], [-0.465, 28.6], [-0.407, 50.6], [-0.36, 72.8], [-0.32, 82.2], [-0.291, 83], [-0.256, 86.9], [-0.221, 88.3], [-0.192, 74.3], [-0.157, 42.8], [-0.116, 14.4], [-0.058, 3.3], [0, 1.4], [0.203, 0.4], [0.436, 0.4], [0.564, 0]],
};
const smoker_1000 = {
  Bootstrap: [[-0.603, 0], [-0.556, 2.5], [-0.516, 8], [-0.484, 19], [-0.456, 34.9], [-0.425, 50.6], [-0.389, 60.1], [-0.349, 61.7], [-0.317, 55.4], [-0.286, 38], [-0.254, 22.2], [-0.222, 12.8], [-0.179, 8], [-0.127, 7.2], [-0.079, 11.2], [-0.02, 19], [0.04, 28.6], [0.099, 41.2], [0.159, 60.1], [0.206, 75.9], [0.254, 90.1], [0.302, 98], [0.361, 100], [0.405, 96.5], [0.444, 82.2], [0.484, 58.5], [0.524, 38], [0.575, 19], [0.635, 8], [0.694, 3.3], [0.774, 0.8], [0.873, 0.1], [0.992, 0]],
  Normal: [[-0.484, 0], [-0.397, 0.8], [-0.317, 4.9], [-0.258, 12.8], [-0.198, 28.6], [-0.139, 42.8], [-0.06, 66.4], [0.02, 75.9], [0.079, 85.4], [0.139, 93.3], [0.183, 94.9], [0.25, 90.1], [0.313, 94], [0.357, 82.2], [0.405, 58.5], [0.444, 34.9], [0.484, 19], [0.524, 12.8], [0.563, 6.5], [0.603, 7], [0.635, 8], [0.675, 6.5], [0.714, 2.5], [0.774, 0.4], [0.841, 0]],
  QF: [[-0.484, 0], [-0.397, 0.8], [-0.317, 4.9], [-0.258, 11.2], [-0.198, 27], [-0.139, 45.9], [-0.099, 58.5], [-0.04, 74.3], [0.02, 83.8], [0.087, 94.9], [0.139, 98.8], [0.198, 99.6], [0.25, 94.9], [0.298, 91.7], [0.337, 82.2], [0.377, 58.5], [0.417, 34.9], [0.456, 14.3], [0.508, 4.9], [0.556, 2.5], [0.635, 1.4], [0.734, 0]],
  CF: [[-0.484, 0], [-0.397, 0.8], [-0.317, 4], [-0.258, 11.2], [-0.198, 25.4], [-0.139, 41.2], [-0.099, 44.3], [-0.06, 57], [0, 74.3], [0.06, 88.5], [0.119, 98], [0.167, 100], [0.218, 94.9], [0.258, 90.9], [0.31, 93.3], [0.349, 83.8], [0.397, 63.3], [0.444, 34.9], [0.484, 22.2], [0.536, 9.6], [0.595, 3.3], [0.655, 0.8], [0.714, 0]],
};
const smoker_2000 = {
  Bootstrap: [[-0.634, 0], [-0.537, 2.5], [-0.457, 6.5], [-0.377, 8.8], [-0.297, 9.3], [-0.237, 12.8], [-0.176, 27], [-0.116, 41.2], [-0.056, 53.8], [-0.008, 66.4], [0.044, 79.1], [0.104, 88.5], [0.152, 91.7], [0.197, 92.5], [0.245, 85.4], [0.305, 72.8], [0.365, 58.5], [0.425, 42.8], [0.485, 30.1], [0.546, 19], [0.606, 9.6], [0.666, 4.9], [0.746, 1.7], [0.826, 0.9], [0.927, 0.4], [0.995, 0]],
  Normal: [[-0.634, 0], [-0.537, 0.8], [-0.457, 4.9], [-0.377, 15.9], [-0.297, 31.7], [-0.237, 47.5], [-0.176, 63.3], [-0.116, 77.5], [-0.064, 90.1], [-0.024, 98], [0.004, 99.8], [0.032, 98], [0.072, 93.3], [0.112, 90.9], [0.144, 86.1], [0.185, 82.2], [0.217, 74.3], [0.245, 58.5], [0.273, 49], [0.305, 41.2], [0.345, 28.6], [0.385, 17.5], [0.425, 9.6], [0.485, 2.5], [0.566, 0.4], [0.666, 0], [0.786, 0.9], [0.886, 0]],
  QF: [[-0.634, 0], [-0.537, 0.8], [-0.457, 4.9], [-0.397, 12.8], [-0.337, 23.8], [-0.277, 30.1], [-0.229, 42.8], [-0.176, 61.7], [-0.116, 77.5], [-0.056, 87], [-0.008, 90.9], [0.04, 92.9], [0.084, 88.5], [0.124, 83.8], [0.164, 82.2], [0.205, 74.3], [0.245, 58.5], [0.297, 38], [0.345, 20.7], [0.405, 9.6], [0.465, 4.9], [0.525, 2.5], [0.606, 0.8], [0.666, 0]],
  CF: [[-0.634, 0], [-0.537, 0.8], [-0.457, 4], [-0.377, 12.8], [-0.317, 25.4], [-0.257, 39.6], [-0.197, 58.5], [-0.136, 75.9], [-0.076, 88.5], [-0.024, 97.2], [0.016, 98], [0.064, 95.4], [0.112, 90.1], [0.164, 80.7], [0.217, 66.4], [0.265, 50.6], [0.313, 36.5], [0.365, 22.2], [0.425, 11.2], [0.485, 4], [0.546, 1.4], [0.646, 0]],
};
const smoker_5000 = {
  Bootstrap: [[-0.919, 0], [-0.789, 1.4], [-0.696, 2.5], [-0.626, 3.8], [-0.557, 2.5], [-0.464, 3.3], [-0.394, 5.7], [-0.325, 12.8], [-0.255, 23.8], [-0.186, 41.2], [-0.116, 61.7], [-0.06, 79.1], [-0.009, 87], [0.046, 88.9], [0.102, 85.4], [0.162, 77.5], [0.232, 69.6], [0.278, 58.5], [0.325, 42.8], [0.38, 30.1], [0.441, 22.2], [0.51, 15.9], [0.58, 11.2], [0.65, 8.8], [0.719, 8], [0.766, 4.9], [0.835, 1.4], [0.928, 0.4], [0.998, 0]],
  Normal: [[-0.775, 0], [-0.65, 0.8], [-0.51, 2.5], [-0.418, 8], [-0.348, 19], [-0.278, 38], [-0.209, 61.7], [-0.148, 75.9], [-0.084, 83.8], [-0.023, 88.5], [0.032, 90.1], [0.065, 92.2], [0.102, 87], [0.153, 74.3], [0.209, 53.8], [0.264, 38], [0.325, 23.8], [0.394, 11.2], [0.464, 4.9], [0.534, 2.5], [0.65, 0.8], [0.789, 0]],
  QF: [[-0.775, 0], [-0.65, 0.8], [-0.51, 3.3], [-0.418, 9.6], [-0.348, 20.6], [-0.278, 39.6], [-0.209, 58.5], [-0.148, 66.4], [-0.084, 82.2], [-0.023, 94.9], [0.056, 98.8], [0.111, 100], [0.162, 94.9], [0.209, 74.3], [0.255, 50.6], [0.316, 30.1], [0.371, 17.5], [0.441, 8], [0.51, 3.3], [0.58, 1.4], [0.673, 0]],
  CF: [[-0.775, 0], [-0.65, 0.8], [-0.51, 3.3], [-0.418, 12.8], [-0.348, 20.6], [-0.302, 23.8], [-0.241, 44.3], [-0.186, 63.3], [-0.13, 77.5], [-0.07, 88.5], [-0.014, 94], [0.028, 95.6], [0.07, 94], [0.116, 88.5], [0.176, 72.8], [0.232, 52.2], [0.288, 34.9], [0.348, 20.7], [0.418, 9.6], [0.487, 3.3], [0.557, 1.4], [0.65, 0.4], [0.766, 0]],
};

// row 5: region
const region_50 = {
  Bootstrap: [[-0.7, 0], [0.085, 0], [0.093, 1], [0.099, 4.7], [0.105, 1], [0.12, 1.5], [0.14, 0.5], [0.2, 0]],
  Normal: [[-0.71, 0], [0.13, 0], [0.142, 1.5], [0.155, 0.5], [0.25, 0]],
  QF: [[-0.71, 0], [0.05, 0], [0.12, 0.5], [0.136, 4], [0.142, 100], [0.148, 4.4], [0.165, 3.5], [0.2, 1.5], [0.25, 0.8], [0.3, 0.4], [0.444, 0]],
  CF: [[-0.7, 0], [0.1, 0], [0.13, 1.5], [0.142, 2.2], [0.16, 1.5], [0.2, 0.5], [0.364, 0]],
};
const region_100 = {
  Bootstrap: [[-0.6, 0], [0.33, 0], [0.34, 3], [0.347, 50.3], [0.354, 3], [0.37, 0.5], [0.4, 0]],
  Normal: [[-0.703, 0], [0.38, 0], [0.394, 3], [0.4, 100], [0.406, 3], [0.43, 0]],
  QF: [[-0.64, 0], [0.36, 0], [0.38, 2], [0.395, 6.8], [0.41, 4], [0.44, 1], [0.5, 0.3], [0.61, 0]],
  CF: [[-0.64, 0], [0.36, 0], [0.38, 2], [0.394, 8], [0.4, 12.9], [0.407, 8], [0.42, 2.5], [0.45, 0.8], [0.5, 0.2], [0.55, 0]],
};
const region_200 = {
  Bootstrap: [[-0.6, 0], [0.378, 0], [0.386, 3], [0.391, 47.1], [0.396, 3], [0.41, 0.5], [0.44, 0]],
  Normal: [[-0.7, 0], [0.43, 0], [0.445, 4], [0.456, 6], [0.462, 100], [0.468, 4], [0.49, 0]],
  QF: [[-0.723, 0], [0.41, 0], [0.43, 3], [0.446, 9], [0.465, 3], [0.5, 0.5], [0.8, 0]],
  CF: [[-0.158, 0], [0.41, 0], [0.425, 3], [0.446, 9.8], [0.47, 3], [0.5, 0.5], [0.7, 0]],
};
const region_500 = {
  Bootstrap: [[-0.831, 0], [-0.61, 0.2], [-0.378, 0.2], [-0.203, 0.5], [-0.157, 4.2], [-0.134, 6.5], [-0.105, 1.3], [-0.058, 2.1], [-0.029, 9.2], [-0.006, 25], [0.029, 36.1], [0.064, 21.9], [0.087, 9.2], [0.116, 2.9], [0.174, 0]],
  Normal: [[-0.622, 0], [-0.262, 0.4], [-0.116, 1], [-0.058, 2.6], [-0.017, 12.4], [0.012, 17.1], [0.035, 13.2], [0.052, 21.9], [0.068, 40], [0.076, 100], [0.084, 40], [0.093, 6], [0.11, 0]],
  QF: [[-0.26, 0], [-0.087, 1.7], [-0.041, 6], [-0.012, 18.7], [0.012, 28.2], [0.041, 21.9], [0.076, 12.4], [0.105, 4.5], [0.145, 2.1], [0.203, 1.7], [0.262, 0.8], [0.378, 0.4], [1.0, 0]],
  CF: [[-0.26, 0], [-0.087, 1.7], [-0.041, 7.6], [-0.012, 26.5], [0.006, 30.9], [0.029, 25], [0.064, 13.9], [0.099, 5.3], [0.145, 2.6], [0.203, 2.1], [0.291, 0.8], [0.378, 0]],
};
const region_1000 = {
  Bootstrap: [[-0.627, 0], [-0.575, 0.8], [-0.476, 0], [-0.357, 0.5], [-0.317, 0.8], [-0.218, 1.7], [-0.159, 1.3], [-0.119, 2], [-0.079, 4.8], [-0.056, 1.3], [0, 1.7], [0.04, 2.9], [0.071, 6], [0.095, 21.9], [0.119, 61.4], [0.143, 81.5], [0.167, 56.6], [0.19, 21.9], [0.21, 4.5], [0.238, 0.5], [0.258, 0]],
  Normal: [[-0.31, 0], [-0.159, 0], [-0.079, 1.3], [-0.02, 4.1], [0.02, 6.3], [0.06, 9.2], [0.087, 13.2], [0.111, 21.9], [0.135, 31.3], [0.155, 38.5], [0.175, 28.2], [0.19, 37.7], [0.196, 70], [0.202, 100], [0.208, 70], [0.214, 37.7], [0.226, 0]],
  QF: [[-0.159, 0], [-0.04, 2.9], [0.012, 4.4], [0.04, 3.2], [0.071, 6], [0.095, 28.2], [0.119, 69.2], [0.143, 48.7], [0.167, 28.2], [0.19, 23.4], [0.21, 9.2], [0.238, 6], [0.278, 2.9], [0.357, 2], [0.417, 0.8], [0.556, 0.2], [0.833, 0], [1.02, 0]],
  CF: [[-0.099, 0], [-0.04, 1.3], [0.02, 1.7], [0.06, 2.9], [0.087, 18.7], [0.107, 53.5], [0.123, 74], [0.143, 59.7], [0.167, 26.6], [0.19, 15.6], [0.218, 6], [0.258, 3.7], [0.298, 1.3], [0.357, 0], [0.6, 0.2], [0.853, 0]],
};
const region_2000 = {
  Bootstrap: [[-0.648, 0], [-0.436, 0.5], [-0.37, 2], [-0.306, 4.1], [-0.21, 5], [-0.146, 7.3], [-0.082, 8.6], [-0.034, 10.4], [0.063, 11], [0.16, 11.2], [0.215, 11.7], [0.243, 15.5], [0.272, 39.7], [0.304, 61.2], [0.328, 66], [0.359, 53.8], [0.384, 30.5], [0.416, 11.7], [0.448, 4.5], [0.496, 1], [0.56, 0]],
  Normal: [[-0.281, 0], [-0.12, 0.5], [-0.056, 2], [0.008, 5.8], [0.072, 13], [0.136, 17.7], [0.2, 20], [0.249, 22.7], [0.28, 21.5], [0.304, 21.3], [0.344, 31], [0.392, 42], [0.436, 45], [0.457, 36], [0.48, 17.5], [0.505, 4.5], [0.537, 1], [0.569, 0]],
  QF: [[-0.2, 0], [-0.1, 0.5], [-0.04, 3.9], [0.024, 9.4], [0.072, 14.7], [0.12, 17.7], [0.177, 17.7], [0.217, 16], [0.249, 14], [0.281, 34.7], [0.305, 72], [0.32, 80.4], [0.337, 64], [0.362, 35.5], [0.394, 17], [0.442, 6], [0.49, 1.7], [0.554, 1.3], [0.634, 1.5], [0.779, 0.5], [1.028, 0]],
  CF: [[-0.281, 0], [-0.185, 0], [-0.104, 1.8], [-0.04, 3.2], [-0.024, 2], [0.04, 10.5], [0.072, 11], [0.101, 14], [0.12, 12], [0.144, 16], [0.181, 17.7], [0.217, 13], [0.257, 9.4], [0.281, 54], [0.297, 89], [0.307, 100], [0.323, 84], [0.345, 45], [0.369, 22], [0.4, 11], [0.432, 4.5], [0.496, 1], [0.544, 0.5], [0.585, 1.7], [0.625, 1.3], [0.674, 0]],
};
const region_5000 = {
  Bootstrap: [[-0.928, 0], [-0.789, 0.8], [-0.65, 1.7], [-0.534, 3.7], [-0.441, 7.6], [-0.371, 14], [-0.302, 25], [-0.241, 34.5], [-0.176, 43.2], [-0.116, 48.7], [-0.056, 53.5], [0, 58.2], [0.046, 64.5], [0.084, 66.4], [0.139, 62.1], [0.209, 57.4], [0.269, 50.3], [0.325, 43.2], [0.371, 42.3], [0.418, 50.3], [0.455, 53.8], [0.487, 48.7], [0.52, 32.9], [0.557, 15.5], [0.613, 6], [0.673, 2], [0.766, 0.5], [0.812, 0]],
  Normal: [[-0.418, 0], [-0.348, 0.5], [-0.255, 1.3], [-0.186, 6], [-0.116, 18.7], [-0.046, 37.7], [0, 53.5], [0.056, 72.4], [0.116, 85], [0.176, 91.3], [0.213, 92.1], [0.255, 88.1], [0.302, 78.7], [0.348, 64.5], [0.408, 48.7], [0.455, 37.7], [0.501, 29.8], [0.534, 25.8], [0.58, 21.9], [0.626, 15.5], [0.673, 9.2], [0.719, 2.9], [0.752, 0.5], [0.77, 0]],
  QF: [[-0.418, 0], [-0.348, 0.2], [-0.255, 1.3], [-0.186, 4.4], [-0.116, 14], [-0.046, 37.7], [0, 53.5], [0.056, 77.1], [0.116, 92.9], [0.162, 99], [0.204, 100], [0.241, 96], [0.288, 81.9], [0.334, 66.1], [0.38, 50.3], [0.418, 50.3], [0.455, 64.5], [0.483, 64.5], [0.51, 45.5], [0.543, 21.9], [0.58, 7.6], [0.65, 1.7], [0.742, 0.7], [0.835, 0.2], [0.905, 0]],
  CF: [[-0.348, 0], [-0.255, 1.3], [-0.186, 4.4], [-0.116, 15.5], [-0.046, 40.7], [0.009, 62.9], [0.07, 83.5], [0.13, 94.5], [0.176, 96.8], [0.223, 91.3], [0.269, 77.1], [0.316, 59.7], [0.362, 48.7], [0.399, 46.3], [0.436, 59.7], [0.464, 65.7], [0.492, 56.6], [0.524, 32.9], [0.557, 12.4], [0.613, 2.9], [0.696, 0.5], [0.826, 0]],
};

// row 6: splines::ns(age, df = 3):sex
const agesex_50 = {
  Bootstrap: [[-0.71, 0], [-0.5, 0.2], [-0.3, 0.45], [-0.1, 0.9], [0.05, 1.25], [0.15, 1.2], [0.3, 0.8], [0.45, 0.4], [0.6, 0.12], [0.71, 0]],
  Normal: [[-0.518, 0], [-0.01, 0], [0, 60], [0.02, 0], [0.03, 0]],
  QF: [[-0.43, 0], [-0.004, 0], [0, 100], [0.004, 0], [0.02, 0]],
  CF: [[-0.428, 0], [-0.005, 0], [0.003, 73.3], [0.022, 0], [0.025, 0]],
};
const agesex_100 = {
  Bootstrap: [[-0.7, 0], [-0.5, 0.2], [-0.3, 0.4], [-0.1, 0.8], [0.05, 1.0], [0.15, 0.95], [0.3, 0.65], [0.45, 0.35], [0.6, 0.1], [0.7, 0]],
  Normal: [[-0.69, 0], [-0.01, 0], [0, 35], [0.02, 0], [0.03, 0]],
  QF: [[-0.59, 0], [-0.004, 0], [0, 100], [0.004, 0], [0.02, 0]],
  CF: [[-0.59, 0], [-0.005, 0], [0.003, 42.5], [0.022, 0], [0.025, 0]],
};
const agesex_200 = {
  Bootstrap: [[-0.2, 0], [-0.004, 0], [0, 100], [0.004, 0], [0.01, 0]],
  Normal: [[-0.712, 0], [-0.01, 0], [0.002, 35], [0.02, 0], [0.025, 0]],
  QF: [[-0.36, 0], [-0.004, 0], [0, 40], [0.004, 0], [0.01, 0]],
  CF: [[-0.359, 0], [-0.008, 0], [0.001, 57.2], [0.018, 0], [0.02, 0]],
};
const agesex_500 = {
  Bootstrap: [[-0.831, 0], [-0.5, 0.3], [-0.2, 0.4], [-0.02, 0.6], [0.01, 12], [0.03, 2], [0.045, 0]],
  Normal: [[-0.64, 0], [-0.01, 0], [0, 40], [0.015, 0], [0.02, 0]],
  QF: [[-0.552, 0], [-0.004, 0], [0, 100], [0.004, 0], [0.01, 0]],
  CF: [[-0.552, 0], [-0.3, 0.2], [-0.05, 0.5], [-0.005, 2], [0.002, 71.7], [0.02, 0.5], [0.025, 0]],
};
const agesex_1000 = {
  Bootstrap: [[-0.627, 0], [-0.3, 0.2], [-0.05, 0.6], [-0.01, 8], [0.005, 50], [0.02, 15], [0.04, 0]],
  Normal: [[-0.35, 0], [-0.01, 0], [0, 60], [0.015, 0], [0.02, 0]],
  QF: [[-0.377, 0], [-0.01, 0], [0, 80], [0.012, 0], [0.02, 0]],
  CF: [[-0.317, 0], [-0.1, 0.3], [-0.02, 0.8], [-0.006, 10], [0, 100], [0.01, 8], [0.025, 0]],
};
const agesex_2000 = {
  Bootstrap: [[-0.642, 0], [-0.4, 0.4], [-0.2, 1], [-0.05, 1.5], [-0.025, 15], [0.002, 95], [0.025, 25], [0.045, 0]],
  Normal: [[-0.5, 0], [-0.3, 0.6], [-0.22, 1.6], [-0.15, 1.3], [-0.04, 3], [-0.012, 40], [0, 90], [0.012, 30], [0.03, 0]],
  QF: [[-0.5, 0], [-0.25, 0.8], [-0.04, 1.5], [-0.012, 40], [0, 92], [0.012, 30], [0.03, 0]],
  CF: [[-0.546, 0], [-0.4, 0.4], [-0.25, 0.8], [-0.2, 1.3], [-0.1, 1], [-0.035, 2], [-0.015, 30], [0, 100], [0.015, 30], [0.035, 0]],
};
const agesex_5000 = {
  Bootstrap: [[-0.919, 0], [-0.6, 0.5], [-0.4, 1.5], [-0.2, 2.5], [-0.1, 2.5], [-0.04, 5], [-0.01, 40], [0.01, 65], [0.04, 20], [0.084, 0]],
  Normal: [[-0.45, 0], [-0.35, 1], [-0.28, 4.5], [-0.2, 5.5], [-0.15, 6], [-0.1, 5.5], [-0.05, 8], [-0.02, 30], [0, 100], [0.02, 40], [0.05, 0]],
  QF: [[-0.789, 0], [-0.5, 0.8], [-0.3, 3], [-0.2, 3.5], [-0.1, 3], [-0.04, 6], [-0.015, 40], [0, 78], [0.02, 40], [0.06, 0]],
  CF: [[-0.742, 0], [-0.5, 1], [-0.3, 3.5], [-0.22, 4], [-0.12, 3], [-0.05, 6], [-0.015, 40], [0, 73], [0.02, 40], [0.06, 0]],
};

const ROW_AGE = [age_50, age_100, age_200, age_500, age_1000, age_2000, age_5000];
const ROW_SEX = [sex_50, sex_100, sex_200, sex_500, sex_1000, sex_2000, sex_5000];
const ROW_BMI = [bmi_50, bmi_100, bmi_200, bmi_500, bmi_1000, bmi_2000, bmi_5000];
const ROW_SMOKER = [smoker_50, smoker_100, smoker_200, smoker_500, smoker_1000, smoker_2000, smoker_5000];
const ROW_REGION = [region_50, region_100, region_200, region_500, region_1000, region_2000, region_5000];
const ROW_AGESEX = [agesex_50, agesex_100, agesex_200, agesex_500, agesex_1000, agesex_2000, agesex_5000];
const PANELS = [ROW_AGE, ROW_SEX, ROW_BMI, ROW_SMOKER, ROW_REGION, ROW_AGESEX];

// ---------------- layout & style ----------------
const FONT = "'Liberation Sans', Arial, Helvetica, sans-serif";
const METHOD_COLORS = ["#1f77b4", "#d62728", "#2ca02c", "#ff7f0e"];
const COL_LEFT = [75, 457, 886.5, 1316, 1745.5, 2175.5, 2605];
const COL_RIGHT = [423, 852, 1281.5, 1711, 2140.5, 2570, 2999.5];
const ROW_TOP = [40.5, 451, 896, 1339, 1784, 2227];
const ROW_BOTTOM = [433, 877, 1322, 1765, 2210, 2604];
const SMOOTH = [
  [0, 0, 1, 1, 1, 1, 1],
  [0, 0, 0, 0, 0, 0, 0],
  [0, 0, 0, 0, 1, 1, 1],
  [0, 1, 1, 1, 1, 1, 1],
  [0, 0, 0, 0, 0, 1, 1],
  [0, 0, 0, 0, 0, 0, 0],
];

const fmtX = (v: number) => (v < 0 ? "\u2212" : "") + Math.abs(v).toFixed(1);
const fmtY = (v: number) => String(v);

function buildOption() {
  const grid: any[] = [];
  const xAxis: any[] = [];
  const yAxis: any[] = [];
  const series: any[] = [];
  const axisLineStyle = { color: "#000", width: 2 };

  for (let r = 0; r < 6; r++) {
    for (let c = 0; c < 7; c++) {
      const i = r * 7 + c;
      const peak = PANEL_PEAK[r][c];
      const yMin = -0.044 * peak;
      const yMax = 1.144 * peak;
      const [xMin, xMax] = X_LIMITS[c];
      grid.push({ left: COL_LEFT[c], top: ROW_TOP[r], width: COL_RIGHT[c] - COL_LEFT[c], height: ROW_BOTTOM[r] - ROW_TOP[r], containLabel: false });
      const isBottom = r === 5;
      xAxis.push({
        type: "value", gridIndex: i, min: xMin, max: xMax, position: "bottom",
        axisLine: { show: true, onZero: false, lineStyle: axisLineStyle },
        axisTick: { show: false },
        splitLine: { show: false },
        axisLabel: isBottom
          ? { show: true, customValues: X_TICKS[c], formatter: fmtX, fontSize: 19, color: "#000", fontFamily: FONT, margin: 11 }
          : { show: false },
        name: isBottom ? X_AXIS_TITLE : "",
        nameLocation: "middle",
        nameGap: 39,
        nameTextStyle: { fontSize: 19.5, color: "#000", fontFamily: FONT },
      });
      const first = c === 0;
      yAxis.push({
        type: "value", gridIndex: i, min: yMin, max: yMax, position: "left",
        axisLine: { show: true, onZero: false, lineStyle: axisLineStyle },
        splitLine: { show: false },
        axisTick: first ? { show: true, length: 10, customValues: Y_TICKS[r], lineStyle: axisLineStyle } : { show: false },
        axisLabel: first
          ? { show: true, customValues: Y_TICKS[r], formatter: fmtY, rotate: 90, fontSize: 19, color: "#000", fontFamily: FONT, margin: 11 }
          : { show: false },
      });

      const ref = (data: number[][], lineStyle: any) => ({
        type: "line", xAxisIndex: i, yAxisIndex: i, data, symbol: "none", silent: true, z: 1,
        lineStyle, emphasis: { disabled: true }, tooltip: { show: false },
      });
      const dashed = { color: "#7a7a7a", width: 1.6, type: [8, 6] };
      const dotted = { color: "#bdbdbd", width: 1.6, type: [2, 5] };
      const [lo, hi] = CI_LIMITS[r][c];
      series.push(ref([[lo, yMin], [lo, yMax]], dashed));
      series.push(ref([[hi, yMin], [hi, yMax]], dashed));
      series.push(ref([[CI_CENTRES[r][c], yMin], [CI_CENTRES[r][c], yMax]], dotted));
      series.push(ref([[xMin, UNIFORM_DENSITY], [xMax, UNIFORM_DENSITY]], { color: "#c8c8c8", width: 1.6, type: [2, 5] }));

      const panel: any = PANELS[r][c];
      METHODS.forEach((m, k) => {
        const pts: number[][] = panel[m];
        series.push({
          type: "line", name: m, xAxisIndex: i, yAxisIndex: i,
          data: pts.map(([x, v]) => [x, (v * peak) / 100]),
          symbol: "none", showSymbol: false, silent: true, z: 2,
          smooth: SMOOTH[r][c] ? 0.5 : false,
          smoothMonotone: "x",
          color: METHOD_COLORS[k],
          lineStyle: { color: METHOD_COLORS[k], width: 3.8, cap: "round", join: "round" },
          emphasis: { disabled: true },
        });
      });
    }
  }

  const graphic: any[] = [];
  COLUMN_TITLES.forEach((t, c) => {
    graphic.push({
      type: "text", x: (COL_LEFT[c] + COL_RIGHT[c]) / 2, y: 21, silent: true,
      style: { text: t, fontSize: 25, fontFamily: FONT, fill: "#000", align: "center", verticalAlign: "middle", textAlign: "center", textVerticalAlign: "middle" },
    });
  });
  ROW_TERMS.forEach((t, r) => {
    const cy = (ROW_TOP[r] + ROW_BOTTOM[r]) / 2;
    graphic.push({
      type: "text", x: 17.5, y: cy, rotation: Math.PI / 2, silent: true,
      style: { text: t, fontSize: 20, fontFamily: FONT, fill: "#000", align: "center", verticalAlign: "middle", textAlign: "center", textVerticalAlign: "middle" },
    });
    graphic.push({
      type: "text", x: 30.5, y: cy, rotation: Math.PI / 2, silent: true,
      style: { text: Y_AXIS_TITLE, fontSize: 20, fontFamily: FONT, fill: "#000", align: "center", verticalAlign: "middle", textAlign: "center", textVerticalAlign: "middle" },
    });
  });
  graphic.push({
    type: "text", x: 3202, y: 1283, silent: true,
    style: { text: LEGEND_TITLE, fontSize: 18, fontFamily: FONT, fill: "#000", align: "center", verticalAlign: "middle", textAlign: "center", textVerticalAlign: "middle" },
  });

  return {
    animation: false,
    backgroundColor: "#ffffff",
    textStyle: { fontFamily: FONT },
    grid, xAxis, yAxis, series, graphic,
    legend: {
      data: METHODS, orient: "vertical", left: 3145, top: 1299.5, padding: 0,
      itemWidth: 34, itemHeight: 4, itemGap: 0, icon: "roundRect", selectedMode: false,
      textStyle: { fontSize: 17.5, color: "#000", fontFamily: FONT, lineHeight: 21, padding: [0, 0, 0, 10] },
    },
  };
}

export default function App() {
  const ref = useRef<HTMLDivElement>(null);
  useEffect(() => {
    if (!ref.current) return;
    const chart = echarts.init(ref.current, null, { renderer: "svg", width: 3400, height: 2664 });
    chart.setOption(buildOption() as any);
    return () => chart.dispose();
  }, []);
  return <div ref={ref} style={{ position: "absolute", left: 0, top: 0, width: 3400, height: 2664, background: "#fff" }} />;
}
